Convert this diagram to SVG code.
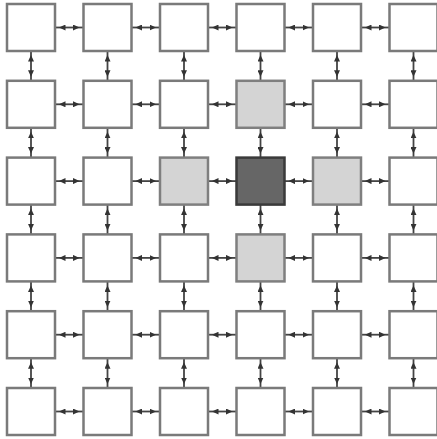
<svg xmlns="http://www.w3.org/2000/svg" width="437" height="439" viewBox="0 0 437 439">
<defs>
<marker id="ah" markerUnits="userSpaceOnUse" markerWidth="11" markerHeight="6" refX="10.5" refY="3" orient="auto-start-reverse">
<path d="M0,0 L6.5,3 L0,6 z" fill="#333"/>
</marker>
<style>
.c line{stroke:#444;stroke-width:1.8;marker-start:url(#ah);marker-end:url(#ah)}
.n rect{fill:#fff;stroke:#7a7a7a;stroke-width:2.5;width:48px;height:47px}
.l rect{fill:#d4d4d4;stroke:#7f7f7f}
.d rect{fill:#666;stroke:#3a3a3a}
</style>
</defs>
<rect width="437" height="439" fill="#fff"/>
<g id="connectors" class="c">
<line x1="55" y1="27.5" x2="83.5" y2="27.5"/><line x1="131.5" y1="27.5" x2="160" y2="27.5"/><line x1="208" y1="27.5" x2="236.5" y2="27.5"/><line x1="284.5" y1="27.5" x2="313" y2="27.5"/><line x1="361" y1="27.5" x2="389.5" y2="27.5"/>
<line x1="55" y1="104.3" x2="83.5" y2="104.3"/><line x1="131.5" y1="104.3" x2="160" y2="104.3"/><line x1="208" y1="104.3" x2="236.5" y2="104.3"/><line x1="284.5" y1="104.3" x2="313" y2="104.3"/><line x1="361" y1="104.3" x2="389.5" y2="104.3"/>
<line x1="55" y1="181.1" x2="83.5" y2="181.1"/><line x1="131.5" y1="181.1" x2="160" y2="181.1"/><line x1="208" y1="181.1" x2="236.5" y2="181.1"/><line x1="284.5" y1="181.1" x2="313" y2="181.1"/><line x1="361" y1="181.1" x2="389.5" y2="181.1"/>
<line x1="55" y1="257.9" x2="83.5" y2="257.9"/><line x1="131.5" y1="257.9" x2="160" y2="257.9"/><line x1="208" y1="257.9" x2="236.5" y2="257.9"/><line x1="284.5" y1="257.9" x2="313" y2="257.9"/><line x1="361" y1="257.9" x2="389.5" y2="257.9"/>
<line x1="55" y1="334.7" x2="83.5" y2="334.7"/><line x1="131.5" y1="334.7" x2="160" y2="334.7"/><line x1="208" y1="334.7" x2="236.5" y2="334.7"/><line x1="284.5" y1="334.7" x2="313" y2="334.7"/><line x1="361" y1="334.7" x2="389.5" y2="334.7"/>
<line x1="55" y1="411.5" x2="83.5" y2="411.5"/><line x1="131.5" y1="411.5" x2="160" y2="411.5"/><line x1="208" y1="411.5" x2="236.5" y2="411.5"/><line x1="284.5" y1="411.5" x2="313" y2="411.5"/><line x1="361" y1="411.5" x2="389.5" y2="411.5"/>
<line x1="31" y1="51" x2="31" y2="80.8"/><line x1="31" y1="127.8" x2="31" y2="157.6"/><line x1="31" y1="204.6" x2="31" y2="234.4"/><line x1="31" y1="281.4" x2="31" y2="311.2"/><line x1="31" y1="358.2" x2="31" y2="388"/>
<line x1="107.5" y1="51" x2="107.5" y2="80.8"/><line x1="107.5" y1="127.8" x2="107.5" y2="157.6"/><line x1="107.5" y1="204.6" x2="107.5" y2="234.4"/><line x1="107.5" y1="281.4" x2="107.5" y2="311.2"/><line x1="107.5" y1="358.2" x2="107.5" y2="388"/>
<line x1="184" y1="51" x2="184" y2="80.8"/><line x1="184" y1="127.8" x2="184" y2="157.6"/><line x1="184" y1="204.6" x2="184" y2="234.4"/><line x1="184" y1="281.4" x2="184" y2="311.2"/><line x1="184" y1="358.2" x2="184" y2="388"/>
<line x1="260.5" y1="51" x2="260.5" y2="80.8"/><line x1="260.5" y1="127.8" x2="260.5" y2="157.6"/><line x1="260.5" y1="204.6" x2="260.5" y2="234.4"/><line x1="260.5" y1="281.4" x2="260.5" y2="311.2"/><line x1="260.5" y1="358.2" x2="260.5" y2="388"/>
<line x1="337" y1="51" x2="337" y2="80.8"/><line x1="337" y1="127.8" x2="337" y2="157.6"/><line x1="337" y1="204.6" x2="337" y2="234.4"/><line x1="337" y1="281.4" x2="337" y2="311.2"/><line x1="337" y1="358.2" x2="337" y2="388"/>
<line x1="413.5" y1="51" x2="413.5" y2="80.8"/><line x1="413.5" y1="127.8" x2="413.5" y2="157.6"/><line x1="413.5" y1="204.6" x2="413.5" y2="234.4"/><line x1="413.5" y1="281.4" x2="413.5" y2="311.2"/><line x1="413.5" y1="358.2" x2="413.5" y2="388"/>
</g>
<g class="n">
<g id="n11"><rect x="7" y="4"/></g><g id="n12"><rect x="83.5" y="4"/></g><g id="n13"><rect x="160" y="4"/></g><g id="n14"><rect x="236.5" y="4"/></g><g id="n15"><rect x="313" y="4"/></g><g id="n16"><rect x="389.5" y="4"/></g>
<g id="n21"><rect x="7" y="80.8"/></g><g id="n22"><rect x="83.5" y="80.8"/></g><g id="n23"><rect x="160" y="80.8"/></g><g id="n24" class="l"><rect x="236.5" y="80.8"/></g><g id="n25"><rect x="313" y="80.8"/></g><g id="n26"><rect x="389.5" y="80.8"/></g>
<g id="n31"><rect x="7" y="157.6"/></g><g id="n32"><rect x="83.5" y="157.6"/></g><g id="n33" class="l"><rect x="160" y="157.6"/></g><g id="n34" class="d"><rect x="236.5" y="157.6"/></g><g id="n35" class="l"><rect x="313" y="157.6"/></g><g id="n36"><rect x="389.5" y="157.6"/></g>
<g id="n41"><rect x="7" y="234.4"/></g><g id="n42"><rect x="83.5" y="234.4"/></g><g id="n43"><rect x="160" y="234.4"/></g><g id="n44" class="l"><rect x="236.5" y="234.4"/></g><g id="n45"><rect x="313" y="234.4"/></g><g id="n46"><rect x="389.5" y="234.4"/></g>
<g id="n51"><rect x="7" y="311.2"/></g><g id="n52"><rect x="83.5" y="311.2"/></g><g id="n53"><rect x="160" y="311.2"/></g><g id="n54"><rect x="236.5" y="311.2"/></g><g id="n55"><rect x="313" y="311.2"/></g><g id="n56"><rect x="389.5" y="311.2"/></g>
<g id="n61"><rect x="7" y="388"/></g><g id="n62"><rect x="83.5" y="388"/></g><g id="n63"><rect x="160" y="388"/></g><g id="n64"><rect x="236.5" y="388"/></g><g id="n65"><rect x="313" y="388"/></g><g id="n66"><rect x="389.5" y="388"/></g>
</g>
</svg>
